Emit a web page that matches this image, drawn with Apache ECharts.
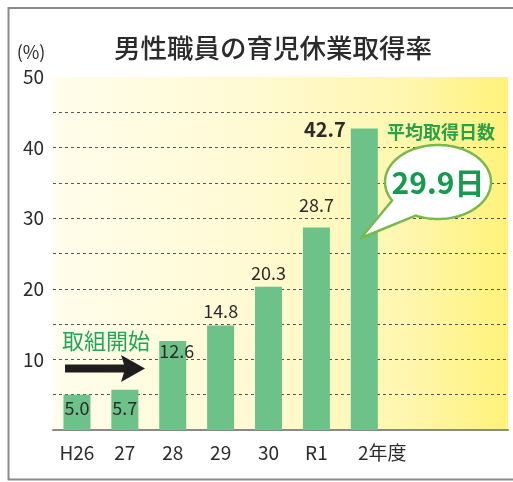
<!DOCTYPE html>
<html><head><meta charset="utf-8">
<script src="https://cdn.jsdelivr.net/npm/echarts@6/dist/echarts.min.js"></script>
<style>html,body{margin:0;padding:0;background:#fff}#c{width:513px;height:482px}</style>
</head><body><div id="c"></div>
<script>
const titleText = '男性職員の育児休業取得率';
const unitText = '(%)';
const categories = ['H26', '27', '28', '29', '30', 'R1', '2年度'];
const rates = [5.0, 5.7, 12.6, 14.8, 20.3, 28.7, 42.7];
const yLabelValues = [10, 20, 30, 40, 50];
const startNote = '取組開始';
const avgDaysTitle = '平均取得日数';
const avgDaysValue = '29.9日';

const FONT = '"Noto Sans CJK JP", "Noto Sans", sans-serif';
const chart = echarts.init(document.getElementById('c'), null, {renderer: 'canvas'});

const labelFor = (i) => {
  const base = {show: true, fontFamily: FONT, fontSize: 18, color: '#2b2b2b', formatter: (p) => p.value[1].toFixed(1)};
  if (i <= 1) return Object.assign(base, {position: 'insideBottom', distance: 13});
  if (i === 2) return Object.assign(base, {position: 'insideTop', distance: 1, offset: [4, 0]});
  if (i === 5) return Object.assign(base, {position: 'top', distance: 13});
  if (i === 6) return Object.assign(base, {position: [-5, 1], align: 'right', verticalAlign: 'middle', fontWeight: 'bold', fontSize: 20});
  return Object.assign(base, {position: 'top', distance: 5});
};

const barData = rates.map((v, i) => ({value: [i, v], label: labelFor(i)}));

// speech bubble outline (ellipse + tail)
const cx = 438, cy = 182, rx = 53, ry = 37;
const aStart = 150, aEnd = 115 + 360;
const bubblePts = [];
for (let a = aStart; a <= aEnd; a += 2.5) {
  const r = a * Math.PI / 180;
  bubblePts.push([cx + rx * Math.cos(r), cy + ry * Math.sin(r)]);
}
bubblePts.push([361, 238]);

const splitColors = [];
for (let v = 0; v <= 50; v += 5) splitColors.push(v === 0 || v === 50 ? 'rgba(0,0,0,0)' : '#555');

chart.setOption({
  animation: false,
  backgroundColor: '#fff',
  title: {
    text: titleText, left: 114, top: 35, padding: 0,
    textStyle: {fontFamily: FONT, fontSize: 26.5, fontWeight: 500, color: '#2b2b2b'}
  },
  grid: {
    left: 53, right: 5, top: 77, bottom: 52, show: true, borderWidth: 0,
    backgroundColor: {
      type: 'linear', x: 0, y: 0, x2: 1, y2: 0,
      colorStops: [
        {offset: 0, color: '#fffdec'},
        {offset: 0.45, color: '#fffad2'},
        {offset: 0.78, color: '#fff6ae'},
        {offset: 1, color: '#fff279'}
      ]
    }
  },
  xAxis: {
    type: 'value', min: -0.5, max: 9,
    axisLine: {show: true, lineStyle: {color: '#8a8a8a', width: 2}},
    axisTick: {show: false},
    splitLine: {show: false},
    axisLabel: {
      customValues: categories.map((c, i) => i),
      fontFamily: FONT, fontSize: 19, color: '#2b2b2b', margin: 13,
      formatter: (v) => {
        const c = categories[Math.round(v)];
        return c.indexOf('年') >= 0 ? '{s|' + c + '}' : c;
      },
      rich: {s: {fontFamily: FONT, fontSize: 19, color: '#2b2b2b', padding: [0, 0, 0, 36]}}
    }
  },
  yAxis: {
    type: 'value', min: 0, max: 50, interval: 5,
    axisLine: {show: false}, axisTick: {show: false},
    axisLabel: {
      fontFamily: FONT, fontSize: 19, color: '#2b2b2b', margin: 9,
      formatter: (v) => yLabelValues.indexOf(v) >= 0 ? String(v) : ''
    },
    splitLine: {show: true, lineStyle: {type: [3, 3], color: splitColors, width: 1}}
  },
  series: [{
    type: 'bar', data: barData, barWidth: 27,
    itemStyle: {color: '#6cc288'}
  }],
  graphic: [
    {type: 'rect', silent: true, z: 100, shape: {x: 8.5, y: 8, width: 520, height: 471.5},
     style: {fill: null, stroke: '#8a8a8a', lineWidth: 2}},
    {type: 'text', silent: true, z: 100, x: 31, y: 52,
     style: {text: unitText, fontFamily: FONT, fontSize: 18, fill: '#2b2b2b', align: 'center', verticalAlign: 'middle'}},
    {type: 'polygon', silent: true, z: 100,
     shape: {points: [[65, 364.5], [124, 364.5], [121, 355], [145, 368.5], [121, 382], [124, 372.5], [65, 372.5]]},
     style: {fill: '#1e1e1e'}},
    {type: 'text', silent: true, z: 100, x: 106, y: 341,
     style: {text: startNote, fontFamily: FONT, fontSize: 22, fill: '#22a659', align: 'center', verticalAlign: 'middle'}},
    {type: 'text', silent: true, z: 100, x: 441, y: 132,
     style: {text: avgDaysTitle, fontFamily: FONT, fontSize: 18, fontWeight: 'bold', fill: '#2aa148', align: 'center', verticalAlign: 'middle'}},
    {type: 'polygon', silent: true, z: 100, shape: {points: bubblePts},
     style: {fill: '#fff', stroke: '#79b84a', lineWidth: 2.5, lineJoin: 'round'}},
    {type: 'text', silent: true, z: 101, x: 438, y: 183,
     style: {text: avgDaysValue, fontFamily: FONT, fontSize: 30, fontWeight: 'bold', fill: '#139b4e', align: 'center', verticalAlign: 'middle'}}
  ]
});
</script></body></html>
